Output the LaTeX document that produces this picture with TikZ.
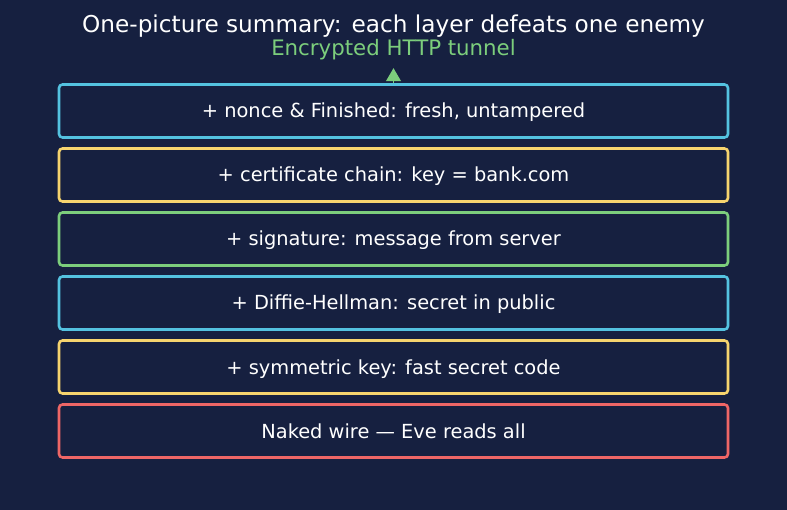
\documentclass[tikz,border=0pt]{standalone}
\usepackage{fontspec}
\setmainfont{DejaVu Sans}
\usepackage{xcolor}
\usepackage{tikz}
\usetikzlibrary{shapes,arrows.meta,positioning,backgrounds}
\definecolor{bgnavy}{RGB}{22,32,64}
\definecolor{layerblue}{RGB}{84,194,224}
\definecolor{layeryellow}{RGB}{246,212,110}
\definecolor{layergreen}{RGB}{124,206,124}
\definecolor{layerred}{RGB}{238,102,102}

\begin{document}
\begin{tikzpicture}[
    x=1pt, y=1pt,
    layer/.style={rectangle, draw=#1, fill=bgnavy, line width=2.6pt, rounded corners=3.5pt,
                  minimum width=669pt, minimum height=53pt, text height=14pt, text depth=0pt,
                  text=white, font=\fontsize{19.4}{22}\selectfont},
    title/.style={text=white, font=\fontsize{23.2}{26}\selectfont},
    arrow/.style={-{Triangle[length=13pt, width=15pt]}, layergreen, line width=1pt}
]
% canvas
\useasboundingbox[fill=bgnavy] (0,0) rectangle (787,-510);

% Titles
\node[title] (head) at (393.5,-26.5) {One-picture summary: each layer defeats one enemy};
\node[title, text=layergreen, font=\fontsize{21.3}{24}\selectfont] (tunnel) at (393.5,-50) {Encrypted HTTP tunnel};

% Layer stack - top to bottom
\node[layer=layerblue] (nonce) at (393.5,-111) {+ nonce \& Finished: fresh, untampered};
\node[layer=layeryellow, below=8.4pt of nonce] (cert) {+ certificate chain: key = bank.com};
\node[layer=layergreen, below=8.4pt of cert] (sig) {+ signature: message from server};
\node[layer=layerblue, below=8.4pt of sig] (dh) {+ Diffie-Hellman: secret in public};
\node[layer=layeryellow, below=8.4pt of dh] (sym) {+ symmetric key: fast secret code};
\node[layer=layerred, below=8.4pt of sym] (wire) {Naked wire — Eve reads all};

% Arrow up to tunnel
\coordinate (tip) at ([yshift=15pt]nonce.north);
\draw[arrow] (nonce.north) -- (tip);

\end{tikzpicture}
\end{document}
